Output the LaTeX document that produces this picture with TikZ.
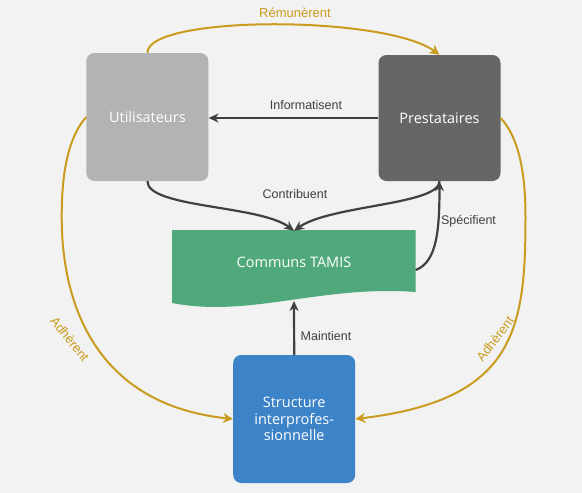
\documentclass[tikz,border=0pt]{standalone}
\usepackage{fontspec}
\setmainfont{Open Sans}
\newfontfamily\labelfont{Liberation Sans}
\usetikzlibrary{arrows.meta}

\definecolor{fond}{HTML}{F2F2F2}
\definecolor{gristclair}{HTML}{B3B3B3}
\definecolor{grisfonce}{HTML}{666666}
\definecolor{vertcommun}{HTML}{4FA97B}
\definecolor{bleustruct}{HTML}{3D83C8}
\definecolor{orlien}{HTML}{C99B1E}
\definecolor{traitfonce}{HTML}{404040}

\tikzset{
  acteur/.style={rounded corners=8pt,text=white,align=center,
    font=\fontsize{14.5}{16.5}\selectfont},
  lienfonce/.style={line width=2.2pt,traitfonce,-{Stealth[length=10pt,width=9pt]}},
  lienor/.style={line width=2pt,orlien,-{Stealth[length=10pt,width=10pt]}},
  etiq/.style={text=traitfonce,font=\labelfont\fontsize{12.5}{14}\selectfont},
  etiqor/.style={text=orlien,font=\labelfont\fontsize{13}{15}\selectfont}
}

\begin{document}
\begin{tikzpicture}[x=1pt,y=-1pt]
    \useasboundingbox[fill=fond] (0,0) rectangle (582,493);

    % acteurs
    \node[acteur,fill=gristclair,minimum width=122pt,minimum height=128pt] (util) at (147.4,117) {Utilisateurs};
    \node[acteur,fill=grisfonce,minimum width=122pt,minimum height=126pt] (presta) at (439.5,118) {Prestataires};
    \node[acteur,fill=bleustruct,minimum width=122pt,minimum height=128pt] (struct) at (294.2,419) {Structure\\interprofes-\\sionnelle};

    % document des communs
    \fill[vertcommun] (172,230) -- (415.7,230) -- (415.7,292)
        .. controls (320,285) and (250,318) .. (172,303) -- cycle;
    \node[acteur,minimum width=243.5pt,minimum height=62pt] (communs) at (294,262) {Communs TAMIS};
    \coordinate (cbas) at (294,301);
    \coordinate (cdroite) at (415.7,270);

    % liens
    \draw[lienor] (util.north) .. controls (147.4,15) and (385,15) .. (presta.north);
    \node[etiqor] (remu) at (295,13) {Rémunèrent};

    \draw[lienfonce] (presta.west) -- (presta.west -| util.east);
    \node[etiq] (info) at (306,105) {Informatisent};

    \draw[lienfonce] (util.south) .. controls (147.4,208) and (260,205) .. (communs.north);
    \draw[lienfonce] (presta.south) .. controls (439.5,205) and (330,205) .. (communs.north);
    \node[etiq] (contrib) at (295,194) {Contribuent};

    \draw[lienfonce] (cdroite) .. controls (437,262) and (439.5,230) .. (presta.south);
    \node[etiq] (spec) at (468.5,221) {Spécifient};

    \draw[lienfonce] (struct.north) -- (cbas);
    \node[etiq] (maint) at (326,336) {Maintient};

    \draw[lienor] (util.west) .. controls (66,140) and (61.7,180) .. (61.7,217)
        .. controls (61.7,310) and (100,405) .. (struct.west);
    \node[etiqor,rotate=-51] (adhg) at (70,339) {Adhèrent};

    \draw[lienor] (presta.east) .. controls (521,140) and (525.5,180) .. (525.5,217)
        .. controls (525.5,330) and (515,400) .. (struct.east);
    \node[etiqor,rotate=53] (adhd) at (495,339) {Adhèrent};
\end{tikzpicture}
\end{document}
